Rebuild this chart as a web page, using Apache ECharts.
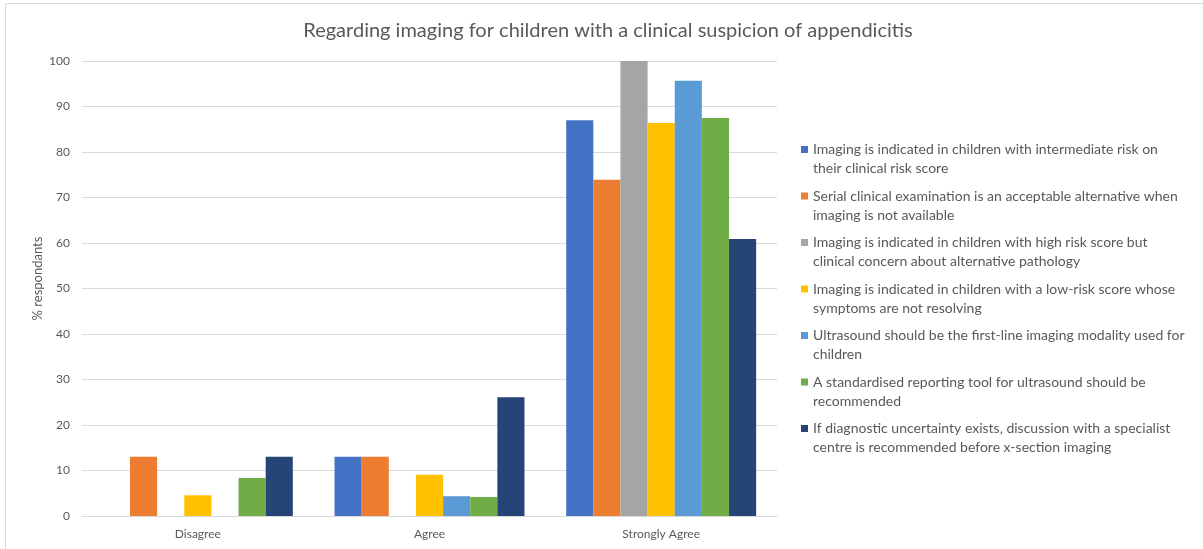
<!DOCTYPE html>
<html>
<head>
<meta charset="utf-8">
<script src="https://cdn.jsdelivr.net/npm/echarts@6/dist/echarts.min.js"></script>
<style>
  html, body { margin: 0; padding: 0; background: #fff; }
  #main { width: 1203px; height: 549px; }
</style>
</head>
<body>
<div id="main"></div>
<script>
var categories = ['Disagree', 'Agree', 'Strongly Agree'];
var seriesNames = [
  'Imaging is indicated in children with intermediate risk on their clinical risk score',
  'Serial clinical examination is an acceptable alternative when imaging is not available',
  'Imaging is indicated in children with high risk score but clinical concern about alternative pathology',
  'Imaging is indicated in children with a low-risk score whose symptoms are not resolving',
  'Ultrasound should be the first-line imaging modality used for children',
  'A standardised reporting tool for ultrasound should be recommended',
  'If diagnostic uncertainty exists, discussion with a specialist centre is recommended before x-section imaging'
];
// words on the first legend line, as wrapped in the original
var firstLineWords = [9, 8, 10, 10, 9, 8, 8];
var intermediateRisk = [0, 13.04, 86.96];
var serialExam = [13.04, 13.04, 73.91];
var highRisk = [0, 0, 100];
var lowRisk = [4.55, 9.09, 86.36];
var ultrasoundFirst = [0, 4.35, 95.65];
var reportingTool = [8.33, 4.17, 87.5];
var specialistCentre = [13.04, 26.09, 60.87];
var yTicks = [0, 10, 20, 30, 40, 50, 60, 70, 80, 90, 100];

var colors = ['#4472C4', '#ED7D31', '#A5A5A5', '#FFC000', '#5B9BD5', '#70AD47', '#264478'];
var allData = [intermediateRisk, serialExam, highRisk, lowRisk, ultrasoundFirst, reportingTool, specialistCentre];

var myChart = echarts.init(document.getElementById('main'));
var font = 'Lato, "Open Sans", sans-serif';

// square sitting next to the first text line, box padded to full item height
var legendIcon = 'path://M0,0L0.01,0M0,6H7V13H0ZM0,38L0.01,38';

var option = {
  animation: false,
  color: colors,
  textStyle: { fontFamily: font },
  title: {
    text: 'Regarding imaging for children with a clinical suspicion of appendicitis',
    left: 603,
    textAlign: 'center',
    top: 16,
    textStyle: { fontSize: 20, fontWeight: 'normal', color: '#595959', fontFamily: font }
  },
  legend: {
    orient: 'vertical',
    left: 796,
    top: 135,
    itemWidth: 7,
    itemHeight: 38,
    itemGap: 8.5,
    icon: legendIcon,
    data: seriesNames,
    formatter: function (name) {
      var i = seriesNames.indexOf(name);
      var words = name.split(' ');
      return words.slice(0, firstLineWords[i]).join(' ') + '\n' + words.slice(firstLineWords[i]).join(' ');
    },
    textStyle: {
      fontSize: 14,
      color: '#595959',
      lineHeight: 19
    }
  },
  grid: { left: 82, right: 426, top: 61, bottom: 33 },
  xAxis: {
    type: 'category',
    data: categories,
    axisLine: { lineStyle: { color: '#D9D9D9' } },
    axisTick: { show: false },
    axisLabel: { color: '#595959', fontSize: 12, margin: 12 }
  },
  yAxis: {
    type: 'value',
    min: 0,
    max: 100,
    interval: 10,
    name: '% respondants',
    nameLocation: 'middle',
    nameGap: 38,
    nameMoveOverlap: false,
    nameTextStyle: { color: '#595959', fontSize: 13, padding: [0, 0, 0, 20] },
    axisLine: { show: false },
    axisTick: { show: false },
    axisLabel: {
      color: '#595959', fontSize: 12, margin: 12,
      formatter: function (v) { return yTicks.indexOf(v) >= 0 ? String(v) : ''; }
    },
    splitLine: { lineStyle: { color: '#D9D9D9' } }
  },
  graphic: [{
    type: 'rect',
    shape: { x: 5.5, y: 3.5, width: 1210, height: 560 },
    style: { fill: 'none', stroke: '#D9D9D9', lineWidth: 1 },
    silent: true
  }],
  series: seriesNames.map(function (name, i) {
    return {
      name: name,
      type: 'bar',
      data: allData[i],
      barGap: '0%',
      barCategoryGap: '18%',
      itemStyle: { color: colors[i] }
    };
  })
};
myChart.setOption(option);
</script>
</body>
</html>
